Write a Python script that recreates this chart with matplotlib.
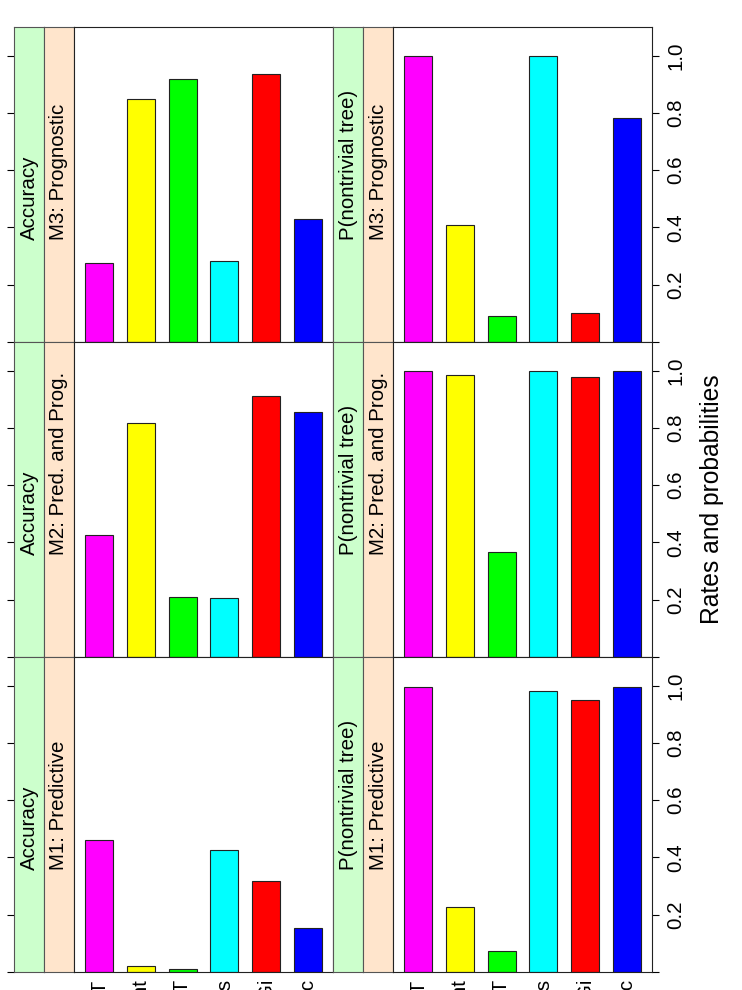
import matplotlib
matplotlib.use("Agg")
import matplotlib.pyplot as plt
from matplotlib.patches import Rectangle

plt.rcParams['font.family'] = ['Liberation Sans', 'DejaVu Sans']

methods = ["IT", "Quint", "VT", "Gs", "Gi", "Gc"]
bar_colors = ["#FF00FF", "#FFFF00", "#00FF00", "#00FFFF", "#FF0000", "#0000FF"]
models = ["M3: Prognostic", "M2: Pred. and Prog.", "M1: Predictive"]
measures = ["Accuracy", "P(nontrivial tree)"]

accuracy = {
    "M3: Prognostic":      [0.276, 0.847, 0.919, 0.283, 0.936, 0.430],
    "M2: Pred. and Prog.": [0.426, 0.817, 0.210, 0.206, 0.912, 0.856],
    "M1: Predictive":      [0.461, 0.020, 0.010, 0.426, 0.318, 0.154],
}
nontrivial = {
    "M3: Prognostic":      [1.000, 0.409, 0.091, 1.000, 0.101, 0.783],
    "M2: Pred. and Prog.": [1.000, 0.985, 0.367, 1.000, 0.978, 1.000],
    "M1: Predictive":      [0.996, 0.227, 0.073, 0.982, 0.950, 0.996],
}
values = {"Accuracy": accuracy, "P(nontrivial tree)": nontrivial}

yticks = [0.0, 0.2, 0.4, 0.6, 0.8, 1.0]
ytick_labels = ["", "0.2", "0.4", "0.6", "0.8", "1.0"]

W, H = 742, 990
fig = plt.figure(figsize=(W / 100, H / 100), dpi=100)

col_edges = [(14, 333), (333, 652)]
row_edges = [(27, 342), (342, 657), (657, 972)]
strip_w = 30
FS = 14.8


def ax_px(x0, y0, x1, y1):
    return fig.add_axes([x0 / W, 1 - y1 / H, (x1 - x0) / W, (y1 - y0) / H])


for r, model in enumerate(models):
    y0, y1 = row_edges[r]
    for c, meas in enumerate(measures):
        x0, x1 = col_edges[c]
        # strips
        sg = ax_px(x0, y0, x0 + strip_w, y1)
        sp = ax_px(x0 + strip_w, y0, x0 + 2 * strip_w, y1)
        for sax, col, txt in [(sg, "#CCFFCC", meas), (sp, "#FFE5CC", model)]:
            sax.set_facecolor(col)
            sax.set_xlim(0, 1)
            sax.set_ylim(0, 1.1)
            sax.set_xticks([])
            sax.set_yticks([])
            for s in sax.spines.values():
                s.set_color("#555555")
                s.set_linewidth(0.8)
            sax.text(0.5, 0.325, txt, transform=sax.transAxes, rotation=90,
                     rotation_mode="anchor", ha="left", va="center", fontsize=FS)
        if c == 0:
            sg.set_yticks(yticks)
            sg.set_yticklabels([])
            sg.tick_params(axis="y", direction="out", length=5.2, width=0.8,
                           left=True, labelleft=False)
        # plot area
        ax = ax_px(x0 + 2 * strip_w, y0, x1, y1)
        ax.bar(range(1, len(methods) + 1), values[meas][model], width=2 / 3,
               color=bar_colors, edgecolor="#222222", linewidth=0.8)
        ax.set_xlim(0.4, 6.6)
        ax.set_ylim(0, 1.1)
        for s in ax.spines.values():
            s.set_color("#222222")
            s.set_linewidth(0.8)
        if c == 1:
            ax.yaxis.tick_right()
            ax.set_yticks(yticks)
            ax.set_yticklabels(ytick_labels)
            ax.tick_params(axis="y", direction="out", length=5.2, width=0.8,
                           pad=5, labelsize=FS, labelrotation=90)
            for lab in ax.get_yticklabels():
                lab.set_va("center")
        else:
            ax.set_yticks([])
        if r == len(models) - 1:
            ax.set_xticks(range(1, len(methods) + 1))
            ax.set_xticklabels(methods)
            ax.tick_params(axis="x", length=0, pad=5, labelsize=FS,
                           labelrotation=90)
        else:
            ax.set_xticks([])

fig.text(712 / W, 1 - 499.5 / H, "Rates and probabilities", rotation=90,
         ha="center", va="center", fontsize=17.7)

fig.savefig("out.png", dpi=100)
